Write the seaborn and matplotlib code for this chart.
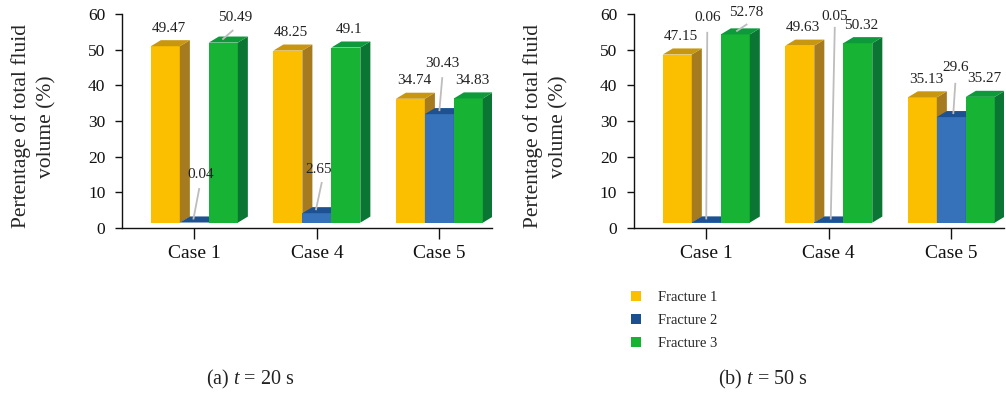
import seaborn as sns
import matplotlib.pyplot as plt
import pandas as pd
import numpy as np
from matplotlib.patches import Polygon, Patch

# ---------------------------------------------------------------
# Data
# ---------------------------------------------------------------

cases = ["Case 1", "Case 4", "Case 5"]
fractures = ["Fracture 1", "Fracture 2", "Fracture 3"]

t20_f1 = [49.47, 48.25, 34.74]
t20_f2 = [0.04, 2.65, 30.43]
t20_f3 = [50.49, 49.1, 34.83]

t50_f1 = [47.15, 49.63, 35.13]
t50_f2 = [0.06, 0.05, 29.6]
t50_f3 = [52.78, 50.32, 35.27]

captions = ["(a) $t$ = 20 s", "(b) $t$ = 50 s"]

# ---------------------------------------------------------------
# Style
# ---------------------------------------------------------------

sns.set_theme(style="ticks")
plt.rcParams["font.family"] = ["Liberation Serif", "DejaVu Serif"]
plt.rcParams["mathtext.fontset"] = "custom"
plt.rcParams["mathtext.rm"] = "Liberation Serif"
plt.rcParams["mathtext.it"] = "Liberation Serif:italic"

front = ["#FBBF00", "#3672B9", "#17B334"]
side = ["#A67A1E", "#1F5495", "#0B7634"]
top = ["#C9970F", "#1E5192", "#0E9A3A"]
legend_cols = ["#FBBF00", "#1C4F8E", "#16B234"]

base = 1.5      # bars float slightly above 0, like the original
ddx = 0.082     # depth offset in x (data units)
ddy = 1.7       # depth offset in y (data units)

# labels that sit off the bar, with a grey leader line:
# (case, fracture): (text x, text y, line start x, line start y, line end x offset)
leaders = [
    {(0, 2): (0.335, 58.9, 0.318, 55.5, -0.049),
     (0, 1): (0.049, 15.1, 0.041, 11.2, -0.049),
     (1, 1): (0.016, 16.3, 0.041, 12.9, -0.049),
     (2, 1): (0.024, 46.0, 0.024, 42.3, -0.041)},
    {(0, 1): (0.008, 58.9, 0.008, 55.0, -0.041),
     (0, 2): (0.327, 60.3, 0.335, 57.2, -0.033),
     (1, 1): (0.049, 59.4, 0.049, 56.4, -0.025),
     (2, 1): (0.033, 44.9, 0.033, 40.7, -0.025)},
]

fig = plt.figure(figsize=(10.06, 3.94), dpi=100)
ax_pos = [[0.1213, 0.4213, 0.3678, 0.5431], [0.6302, 0.4213, 0.3678, 0.5431]]

panels = [[t20_f1, t20_f2, t20_f3], [t50_f1, t50_f2, t50_f3]]

for k, series in enumerate(panels):
    ax = fig.add_axes(ax_pos[k])
    df = pd.DataFrame({
        "Case": cases * 3,
        "Fracture": np.repeat(fractures, 3),
        "Value": np.concatenate(series),
    })
    sns.barplot(data=df, x="Case", y="Value", hue="Fracture",
                palette=front, width=0.71, saturation=1, ax=ax,
                legend=False, linewidth=0)

    for j, cont in enumerate(ax.containers):
        for i, p in enumerate(cont.patches):
            p.set_y(base)
            p.set_zorder(2 + j)
            x0 = p.get_x()
            x1 = x0 + p.get_width()
            y0 = base
            y1 = base + p.get_height()
            sp = Polygon([(x1, y0), (x1 + ddx, y0 + ddy), (x1 + ddx, y1 + ddy), (x1, y1)],
                         closed=True, fc=side[j], ec="none", zorder=2 + j)
            tp = Polygon([(x0, y1), (x0 + ddx, y1 + ddy), (x1 + ddx, y1 + ddy), (x1, y1)],
                         closed=True, fc=top[j], ec="none", zorder=2 + j)
            ax.add_patch(sp)
            ax.add_patch(tp)

            val = series[j][i]
            txt = f"{val:g}"
            xc = x0 + p.get_width() / 2
            if (i, j) in leaders[k]:
                tx, ty, sx, sy, ex = leaders[k][(i, j)]
                ax.plot([i + sx, xc + ddx / 2 + ex], [sy, y1 + ddy / 2],
                        color="#BDBDBD", lw=1.3, zorder=10, solid_capstyle="butt")
                ax.text(i + tx, ty, txt, ha="center", va="center",
                        fontsize=11, color="#222222", zorder=11)
            else:
                ax.text(xc + ddx * 0.35, val + 6.6, txt, ha="center", va="center",
                        fontsize=11, color="#222222", zorder=11)

    ax.set_xlim(-0.59, 2.43)
    ax.set_ylim(0, 60)
    ax.set_yticks(range(0, 61, 10))
    ax.set_xlabel("")
    ax.set_ylabel("Pertentage of total fluid\nvolume (%)", fontsize=15.5,
                  linespacing=1.45)
    ax.yaxis.label.set_verticalalignment("center")
    ax.yaxis.set_label_coords(-0.239, 0.475)
    ax.tick_params(axis="y", labelsize=12.5, length=5, width=1, pad=7, colors="#111111")
    ax.tick_params(axis="x", labelsize=14, length=8, width=1, pad=4, colors="#111111")
    for s in ["left", "bottom"]:
        ax.spines[s].set_linewidth(1)
        ax.spines[s].set_color("#111111")
    sns.despine(ax=ax)

    fig.text([0.2485, 0.758][k], 1 - 379 / 394, captions[k], ha="center", va="center",
             fontsize=14.5, color="#222222")

handles = [Patch(fc=c, ec="none") for c in legend_cols]
fig.legend(handles, fractures, loc="upper left", bbox_to_anchor=(0.627, 0.262),
           frameon=False, fontsize=10.5, handlelength=0.7, handleheight=0.7,
           handletextpad=1.2, labelspacing=0.68, borderpad=0, borderaxespad=0)

fig.savefig("out.png", dpi=100)
